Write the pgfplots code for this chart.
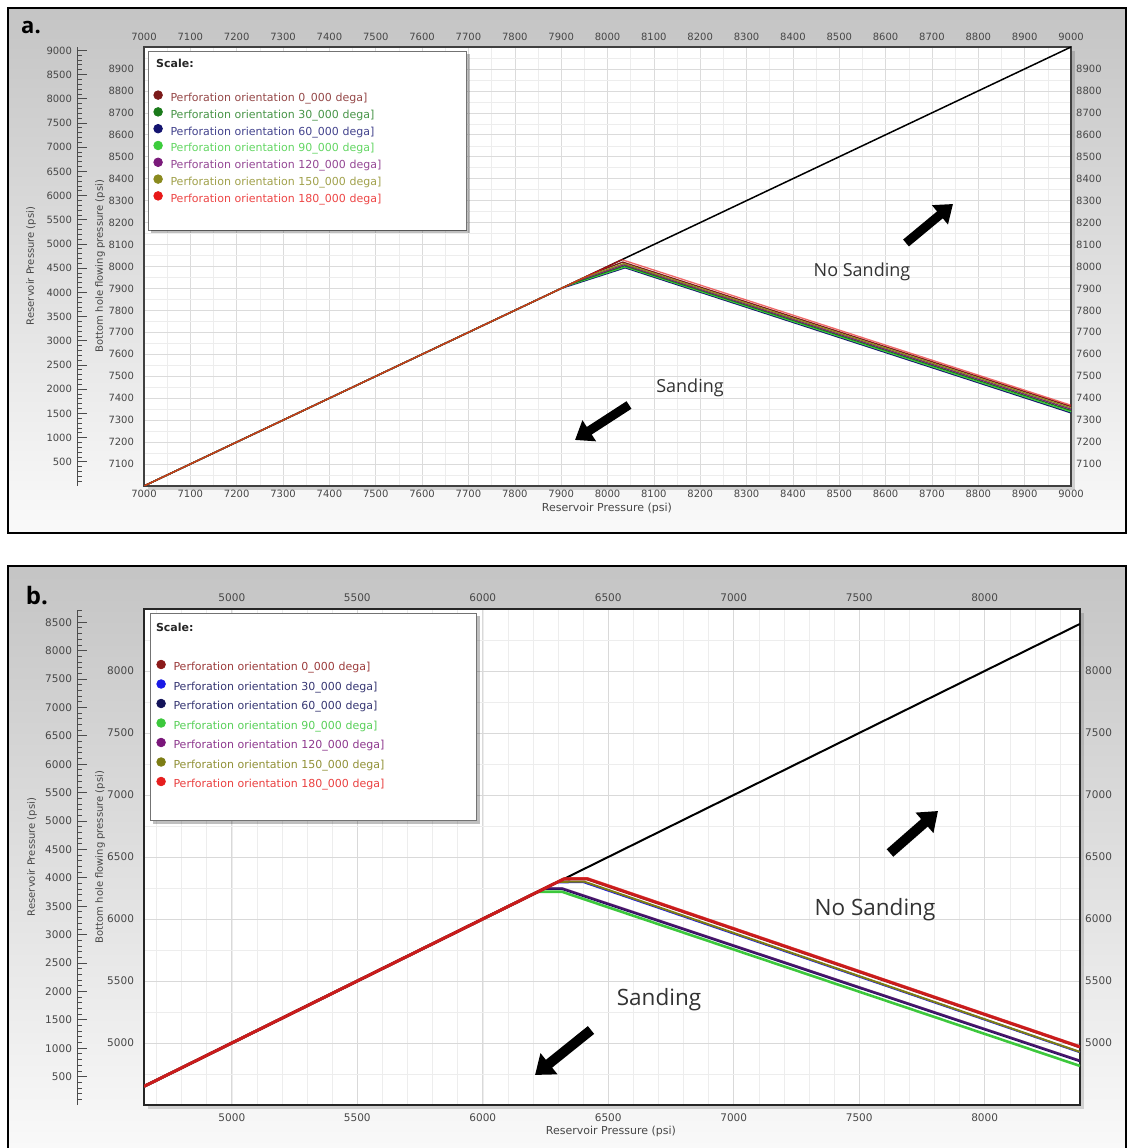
\documentclass[border=0pt]{standalone}
\usepackage{fontspec}
\setmainfont{DejaVu Sans}
\newfontfamily\osans{Open Sans}
\usepackage{pgfplots}
\pgfplotsset{compat=1.18}
\usetikzlibrary{arrows.meta}

\definecolor{ca0}{HTML}{7B1A1A}
\definecolor{ca30}{HTML}{1A7A1A}
\definecolor{ca60}{HTML}{141470}
\definecolor{ca90}{HTML}{3CCC3C}
\definecolor{ca120}{HTML}{7A1A7A}
\definecolor{ca150}{HTML}{8A8A1E}
\definecolor{ca180}{HTML}{E81818}
\definecolor{cb0}{HTML}{8B1A1A}
\definecolor{cb30}{HTML}{1A1AE6}
\definecolor{cb60}{HTML}{14145A}
\definecolor{cb90}{HTML}{3CC83C}
\definecolor{cb120}{HTML}{7A167A}
\definecolor{cb150}{HTML}{7D7D14}
\definecolor{cb180}{HTML}{E61E1E}

\pgfplotsset{
  mainax/.style={scale only axis, axis background/.style={fill=white},
    /pgf/number format/1000 sep={}, /pgf/number format/assume math mode=true,
    major tick length=0pt, minor tick length=0pt, tick style={draw=none},
    ticklabel style={text=black!72}},
  outerax/.style={scale only axis, width=10pt, xmin=0, xmax=1,
    axis y line*=left, axis x line=none,
    /pgf/number format/1000 sep={}, /pgf/number format/assume math mode=true,
    major tick length=10pt, minor tick length=5pt, tick align=inside,
    tick style={draw=black!70, line width=0.8pt},
    axis line style={draw=black!70, line width=0.9pt},
    ticklabel style={text=black!72}, y tick label style={xshift=-1.5pt}},
  legimg/.style={legend image code/.code={\fill[##1] (0pt,3.6pt) circle (4.3pt); \path (10pt,0pt);}}
}

\begin{document}
\begin{tikzpicture}[x=1pt,y=1pt]
\path[use as bounding box] (0,0) rectangle (1127,1148);
% frames
\shade[top color=black!23,bottom color=black!2] (8,615) rectangle (1126,1140);
\draw[line width=2.5pt] (8,615) rectangle (1126,1140);
\shade[top color=black!23,bottom color=black!2] (8,-10) rectangle (1126,582);
\draw[line width=2.5pt] (8,-10) rectangle (1126,582);
% plot shadows
\fill[black, opacity=0.15] (148,658) rectangle (1075,1097);
\fill[black, opacity=0.15] (148,39) rectangle (1084,535);

% ================= PANEL A =================
\begin{axis}[mainax, at={(144pt,662pt)}, anchor=south west, width=927pt, height=439pt,
  xmin=7000, xmax=9000, ymin=7000, ymax=9000,
  xtick={7000,7100,...,9000}, ytick={7100,7200,...,8900},
  minor xtick={7050,7150,...,8950}, minor ytick={7050,7150,...,8950},
  grid=both, major grid style={draw=black!14, line width=0.6pt},
  minor grid style={draw=black!7, line width=0.5pt},
  axis line style={draw=black!75, line width=1.2pt},
  ticklabel style={font=\fontsize{10}{12}\selectfont},
  xticklabel pos=lower, yticklabel pos=left,
  x tick label style={yshift=-1pt}, y tick label style={xshift=-6.5pt},
  legimg, legend cell align=left,
  legend style={name=lega, at={(0,1)}, anchor=north west, xshift=4pt, yshift=-4pt,
    draw=black!55, line width=0.8pt, fill=white, font=\fontsize{11}{12}\selectfont,
    inner xsep=5pt, inner ysep=11pt, row sep=3pt,
    nodes={text height=8pt, text depth=2.5pt, inner ysep=0.25pt, text width=289pt, align=left}},
]
\addlegendimage{legend image code/.code={\node[overlay, anchor=base west, inner sep=0pt, font=\bfseries\fontsize{11}{12}\selectfont, text=black!85] at (-2.3pt,0pt) {Scale:};}}
\addlegendentry{}
\addlegendimage{empty legend}\addlegendentry{}
\addlegendimage{ca0}\addlegendentry{\textcolor{ca0!80!white}{Perforation orientation 0\_000 dega]}}
\addlegendimage{ca30}\addlegendentry{\textcolor{ca30!80!white}{Perforation orientation 30\_000 dega]}}
\addlegendimage{ca60}\addlegendentry{\textcolor{ca60!80!white}{Perforation orientation 60\_000 dega]}}
\addlegendimage{ca90}\addlegendentry{\textcolor{ca90!80!white}{Perforation orientation 90\_000 dega]}}
\addlegendimage{ca120}\addlegendentry{\textcolor{ca120!80!white}{Perforation orientation 120\_000 dega]}}
\addlegendimage{ca150}\addlegendentry{\textcolor{ca150!80!white}{Perforation orientation 150\_000 dega]}}
\addlegendimage{ca180}\addlegendentry{\textcolor{ca180!80!white}{Perforation orientation 180\_000 dega]}}
\addlegendimage{empty legend}\addlegendentry{}
\addplot[forget plot, black, line width=1.5pt] coordinates {(7000,7000) (9000,9000)};
\addplot[forget plot, ca60, line width=1.3pt] coordinates {(7000,7000) (7900,7900) (8038,7994) (9000,7333)};
\addplot[forget plot, ca90, line width=1.3pt] coordinates {(7000,7000) (7910,7910) (8038,7998) (9000,7338)};
\addplot[forget plot, ca30, line width=1.3pt] coordinates {(7000,7000) (7920,7920) (8037,8003) (9000,7344)};
\addplot[forget plot, ca120, line width=1.3pt] coordinates {(7000,7000) (7935,7935) (8036,8008) (9000,7350)};
\addplot[forget plot, ca0, line width=1.3pt] coordinates {(7000,7000) (7970,7970) (8033,8020) (9000,7362)};
\addplot[forget plot, ca150, line width=1.3pt] coordinates {(7000,7000) (7950,7950) (8035,8013) (9000,7356)};
\addplot[forget plot, ca180, line width=1.3pt, opacity=0.65] coordinates {(7000,7000) (8031,8031) (9000,7368)};
\end{axis}
\fill[black, opacity=0.25] ([shift={(3pt,-3pt)}]lega.south west) rectangle ([shift={(3pt,0pt)}]lega.south east);
\fill[black, opacity=0.25] (lega.south east) rectangle ([shift={(3pt,-3pt)}]lega.north east);
\begin{axis}[mainax, at={(144pt,662pt)}, anchor=south west, width=927pt, height=439pt,
  xmin=7000, xmax=9000, ymin=7000, ymax=9000, axis background/.style={},
  xtick={7000,7100,...,9000}, ytick={7100,7200,...,8900},
  axis line style={draw=none},
  ticklabel style={font=\fontsize{10}{12}\selectfont},
  xticklabel pos=upper, yticklabel pos=right,
  x tick label style={yshift=3pt}, y tick label style={xshift=1.7pt}]
\end{axis}
\begin{axis}[outerax, at={(77pt,662pt)}, anchor=south west, height=439pt,
  ymin=0, ymax=9070, ytick={500,1000,...,9000}, minor ytick={100,200,...,9000},
  ticklabel style={font=\fontsize{10}{12}\selectfont}]
\end{axis}
\node[rotate=90, font=\fontsize{10}{11}\selectfont, text=black!72] at (31,882) {Reservoir Pressure (psi)};
\node[rotate=90, font=\fontsize{10}{11}\selectfont, text=black!72] at (100,882) {Bottom hole flowing pressure (psi)};
\node[font=\fontsize{11}{12}\selectfont, text=black!72] at (607,640) {Reservoir Pressure (psi)};
\node[font=\osans\bfseries\fontsize{22}{24}\selectfont] at (31,1120) {a.};
\node[font=\osans\fontsize{18}{20}\selectfont, text=black!80] at (862,876) {No Sanding};
\node[font=\osans\fontsize{18}{20}\selectfont, text=black!80] at (690,760) {Sanding};
\draw[line width=9pt, -{Triangle[length=17pt, width=24pt]}] (906,905) -- (953,944);
\draw[line width=9pt, -{Triangle[length=17pt, width=24pt]}] (629,743) -- (575,708);

% ================= PANEL B =================
\begin{axis}[mainax, at={(144pt,43pt)}, anchor=south west, width=936pt, height=496pt,
  xmin=4650, xmax=8380, ymin=4500, ymax=8500,
  xtick={5000,5500,...,8000}, ytick={5000,5500,...,8000},
  minor xtick={4700,4800,...,8300}, minor ytick={4750,5250,...,8250},
  grid=both, major grid style={draw=black!15, line width=0.7pt},
  minor grid style={draw=black!7, line width=0.5pt},
  axis line style={draw=black!85, line width=1.5pt},
  ticklabel style={font=\fontsize{10.5}{12}\selectfont},
  xticklabel pos=lower, yticklabel pos=left,
  x tick label style={yshift=-5.5pt}, y tick label style={xshift=-6.5pt},
  legimg, legend cell align=left,
  legend style={name=legb, at={(0,1)}, anchor=north west, xshift=6pt, yshift=-4pt,
    draw=black!55, line width=0.8pt, fill=white, font=\fontsize{11}{12}\selectfont,
    inner xsep=6pt, inner ysep=13pt, row sep=5.7pt,
    nodes={text height=8pt, text depth=2.5pt, inner ysep=0.25pt, text width=295pt, align=left}},
]
\addlegendimage{legend image code/.code={\node[overlay, anchor=base west, inner sep=0pt, font=\bfseries\fontsize{11}{12}\selectfont, text=black!85] at (-5.5pt,0pt) {Scale:};}}
\addlegendentry{}
\addlegendimage{empty legend}\addlegendentry{}
\addlegendimage{cb0}\addlegendentry{\textcolor{cb0!85!white}{Perforation orientation 0\_000 dega]}}
\addlegendimage{cb30}\addlegendentry{\textcolor{cb60!85!white}{Perforation orientation 30\_000 dega]}}
\addlegendimage{cb60}\addlegendentry{\textcolor{cb60!85!white}{Perforation orientation 60\_000 dega]}}
\addlegendimage{cb90}\addlegendentry{\textcolor{cb90!85!white}{Perforation orientation 90\_000 dega]}}
\addlegendimage{cb120}\addlegendentry{\textcolor{cb120!85!white}{Perforation orientation 120\_000 dega]}}
\addlegendimage{cb150}\addlegendentry{\textcolor{cb150!85!white}{Perforation orientation 150\_000 dega]}}
\addlegendimage{cb180}\addlegendentry{\textcolor{cb180!85!white}{Perforation orientation 180\_000 dega]}}
\addlegendimage{empty legend}\addlegendentry{}
\addplot[forget plot, black, line width=2pt] coordinates {(4650,4650) (8380,8380)};
\addplot[forget plot, cb90, line width=2.6pt] coordinates {(4650,4650) (6220,6220) (6315,6220) (8380,4815)};
\addplot[forget plot, cb60, line width=2.6pt] coordinates {(4650,4650) (6245,6245) (6315,6245) (8380,4855)};
\addplot[forget plot, cb120, line width=2.2pt, opacity=0.5] coordinates {(4650,4650) (6247,6247) (6318,6247) (8380,4858)};
\addplot[forget plot, cb30, line width=2pt] coordinates {(4650,4650) (6295,6295) (6400,6298) (8380,4925)};
\addplot[forget plot, cb150, line width=2pt] coordinates {(4650,4650) (6300,6300) (6405,6301) (8380,4928)};
\addplot[forget plot, cb0, line width=3pt] coordinates {(4650,4650) (6322,6322) (6415,6324) (8380,4968)};
\addplot[forget plot, cb180, line width=3pt, opacity=0.7] coordinates {(4650,4650) (6325,6325) (6418,6325) (8380,4970)};
\end{axis}
\fill[black, opacity=0.25] ([shift={(3pt,-3pt)}]legb.south west) rectangle ([shift={(3pt,0pt)}]legb.south east);
\fill[black, opacity=0.25] (legb.south east) rectangle ([shift={(3pt,-3pt)}]legb.north east);
\begin{axis}[mainax, at={(144pt,43pt)}, anchor=south west, width=936pt, height=496pt,
  xmin=4650, xmax=8380, ymin=4500, ymax=8500, axis background/.style={},
  xtick={5000,5500,...,8000}, ytick={5000,5500,...,8000},
  axis line style={draw=none},
  ticklabel style={font=\fontsize{10.5}{12}\selectfont},
  xticklabel pos=upper, yticklabel pos=right,
  x tick label style={yshift=3.7pt}, y tick label style={xshift=1.7pt}]
\end{axis}
\begin{axis}[outerax, at={(77pt,43pt)}, anchor=south west, height=495pt,
  ymin=0, ymax=8715, ytick={500,1000,...,8500}, minor ytick={100,200,...,8700},
  ticklabel style={font=\fontsize{10.5}{12}\selectfont}]
\end{axis}
\node[rotate=90, font=\fontsize{10}{11}\selectfont, text=black!72] at (32,291) {Reservoir Pressure (psi)};
\node[rotate=90, font=\fontsize{10}{11}\selectfont, text=black!72] at (100,291) {Bottom hole flowing pressure (psi)};
\node[font=\fontsize{11}{12}\selectfont, text=black!72] at (611,17) {Reservoir Pressure (psi)};
\node[font=\osans\bfseries\fontsize{24}{26}\selectfont] at (37,552) {b.};
\node[font=\osans\fontsize{22.5}{25}\selectfont, text=black!80] at (875,238) {No Sanding};
\node[font=\osans\fontsize{22.5}{25}\selectfont, text=black!80] at (659,148) {Sanding};
\draw[line width=10pt, -{Triangle[length=18pt, width=26pt]}] (890,295) -- (938,337);
\draw[line width=10pt, -{Triangle[length=18pt, width=26pt]}] (591,118) -- (535,73);
\end{tikzpicture}
\end{document}
